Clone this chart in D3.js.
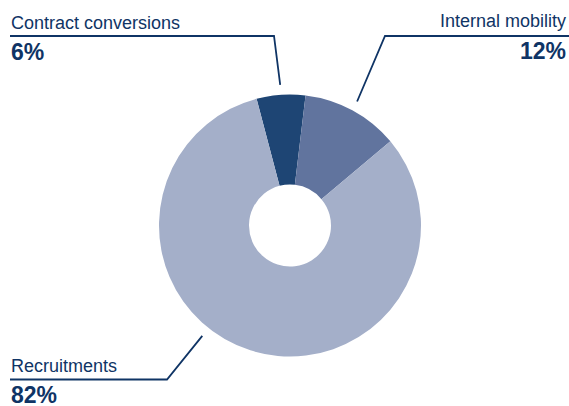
<!DOCTYPE html>
<html>
<head>
<meta charset="utf-8">
<script src="https://cdn.jsdelivr.net/npm/d3@7/dist/d3.min.js"></script>
<style>
  html, body { margin: 0; padding: 0; background: #ffffff; }
  svg { display: block; }
  text { font-family: "Liberation Sans", Arial, sans-serif; fill: #0f3465; }
</style>
</head>
<body>
<svg id="chart" width="569" height="406"></svg>
<script>
// Hiring breakdown by source (share of total, %)
const categories = ["Contract conversions", "Internal mobility", "Recruitments"];
const values = [6, 12, 82];
const labels = ["6%", "12%", "82%"];
const colors = ["#1e4574", "#61749e", "#a4afc9"];

const width = 569, height = 406;
const cx = 290, cy = 225.5;
const outerR = 131, innerR = 41;
const startAngle = -0.258;

const svg = d3.select("#chart");
const g = svg.append("g").attr("transform", `translate(${cx},${cy})`);

const data = categories.map((c, i) => ({ name: c, value: values[i], label: labels[i], color: colors[i] }));

const pie = d3.pie()
  .value(d => d.value)
  .sort(null)
  .startAngle(startAngle)
  .endAngle(startAngle + 2 * Math.PI);

const arc = d3.arc().innerRadius(innerR).outerRadius(outerR);
const arcs = pie(data);

g.selectAll("path.slice")
  .data(arcs)
  .join("path")
  .attr("class", "slice")
  .attr("d", arc)
  .attr("fill", d => d.data.color);

// Callout layout: where each leader leaves the ring, its elbow, and the text block
const callouts = [
  { angle: a => (a.startAngle + a.endAngle) / 2, elbow: [274, 36], lineEnd: 10, align: "start", tx: 11, nameDy: -7, pctDy: 24 },
  { angle: a => (a.startAngle + a.endAngle) / 2, elbow: [385, 36], lineEnd: 569, align: "end", tx: 566, nameDy: -9.5, pctDy: 22.5 },
  { angle: a => a.startAngle + 2.94, elbow: [167, 379.5], lineEnd: 10, align: "start", tx: 11, nameDy: -7.5, pctDy: 23 }
];

const lineColor = "#0f3465";
const gap = 10;

arcs.forEach((a, i) => {
  const c = callouts[i];
  const ang = c.angle(a);
  const r = outerR + gap;
  const px = cx + r * Math.sin(ang);
  const py = cy - r * Math.cos(ang);
  const pts = [[px, py], c.elbow, [c.lineEnd, c.elbow[1]]];
  svg.append("path")
    .attr("d", d3.line()(pts))
    .attr("fill", "none")
    .attr("stroke", lineColor)
    .attr("stroke-width", 1.8);

  svg.append("text")
    .attr("x", c.tx)
    .attr("y", c.elbow[1] + c.nameDy)
    .attr("text-anchor", c.align)
    .attr("font-size", 18)
    .text(a.data.name);

  svg.append("text")
    .attr("x", c.tx)
    .attr("y", c.elbow[1] + c.pctDy)
    .attr("text-anchor", c.align)
    .attr("font-size", 23)
    .attr("font-weight", "bold")
    .text(a.data.label);
});
</script>
</body>
</html>
